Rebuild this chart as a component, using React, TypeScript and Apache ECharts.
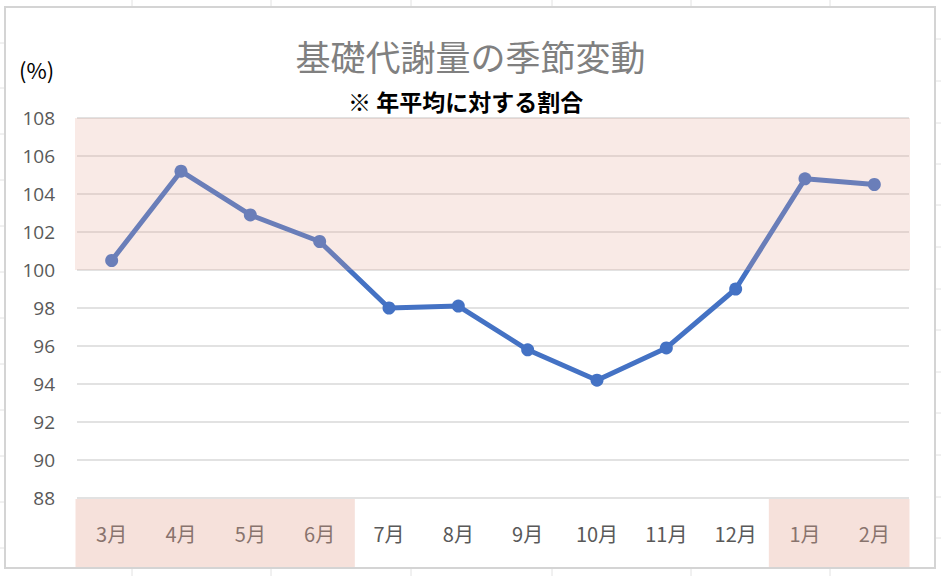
import React, { useEffect, useRef } from "react";
import * as echarts from "echarts";

const categories = ["3月", "4月", "5月", "6月", "7月", "8月", "9月", "10月", "11月", "12月", "1月", "2月"];
const values = [100.5, 105.2, 102.9, 101.5, 98.0, 98.1, 95.8, 94.2, 95.9, 99.0, 104.8, 104.5];
const yMin = 88;
const yMax = 108;
const yInterval = 2;
const highlightRange = [100, 108];
const highlightMonths: [string, string][] = [["3月", "6月"], ["1月", "2月"]];
const titleText = "基礎代謝量の季節変動";
const subtitleText = "※ 年平均に対する割合";
const unitText = "(%)";

const FONT = "'Noto Sans CJK JP', 'Noto Sans', sans-serif";

export default function App() {
  const ref = useRef<HTMLDivElement>(null);
  useEffect(() => {
    document.body.style.margin = "0";
    const chart = echarts.init(ref.current!, null, { renderer: "svg" });
    const option: any = {
      animation: false,
      backgroundColor: "#ffffff",
      title: [
        {
          text: titleText,
          left: "center",
          top: 33,
          textStyle: { fontFamily: FONT, fontSize: 35, fontWeight: "normal", color: "#808080" },
        },
        {
          text: subtitleText,
          left: 343,
          top: 84,
          textStyle: { fontFamily: FONT, fontSize: 23, fontWeight: "bold", color: "#000000" },
        },
      ],
      grid: { left: 77, right: 32, top: 118, bottom: 78 },
      xAxis: {
        type: "category",
        data: categories,
        boundaryGap: true,
        axisLine: { show: false },
        axisTick: { show: false },
        axisLabel: { fontFamily: FONT, fontSize: 20, color: "#595959", margin: 25 },
      },
      yAxis: {
        type: "value",
        min: yMin,
        max: yMax,
        interval: yInterval,
        axisLine: { show: false },
        axisTick: { show: false },
        axisLabel: { fontFamily: "'Open Sans', 'Noto Sans', sans-serif", fontSize: 19, color: "#595959", margin: 22 },
        splitLine: { lineStyle: { color: "#d9d9d9", width: 1.5 } },
      },
      series: [
        {
          type: "line",
          data: values,
          z: 2,
          symbol: "circle",
          symbolSize: 13,
          lineStyle: { color: "#4472C4", width: 5 },
          itemStyle: { color: "#4472C4" },
        },
      ],
    };
    chart.setOption(option);

    const c0 = chart.convertToPixel({ xAxisIndex: 0 }, categories[0]) as number;
    const c1 = chart.convertToPixel({ xAxisIndex: 0 }, categories[1]) as number;
    const bw = c1 - c0;
    const xLeft = c0 - bw / 2;
    const xRight = (chart.convertToPixel({ xAxisIndex: 0 }, categories[categories.length - 1]) as number) + bw / 2;
    const yBottom = chart.convertToPixel({ yAxisIndex: 0 }, yMin) as number;
    const yHiLo = chart.convertToPixel({ yAxisIndex: 0 }, highlightRange[0]) as number;
    const yHiHi = chart.convertToPixel({ yAxisIndex: 0 }, highlightRange[1]) as number;

    const bands: any[] = highlightMonths.map(([a, b], i) => {
      const xa = (chart.convertToPixel({ xAxisIndex: 0 }, a) as number) - bw / 2;
      const xb = (chart.convertToPixel({ xAxisIndex: 0 }, b) as number) + bw / 2;
      return {
        type: "rect",
        id: "band" + i,
        z: 20,
        silent: true,
        shape: { x: xa - 1.5, y: yBottom + 1, width: xb - xa + 2, height: 568 - yBottom - 1 },
        style: { fill: "rgba(230,166,149,0.34)" },
      };
    });
    bands.push({
      type: "rect",
      id: "hiband",
      z: 20,
      silent: true,
      shape: { x: xLeft - 2, y: yHiHi, width: xRight - xLeft + 3, height: yHiLo - yHiHi },
      style: { fill: "rgba(230,166,149,0.24)" },
    });

    const sheetLines: any[] = [];
    [132, 271, 411, 552, 691, 830].forEach((x) => {
      sheetLines.push({ type: "line", shape: { x1: x, y1: 0, x2: x, y2: 7 }, style: { stroke: "#e2e2e2", lineWidth: 1 } });
      sheetLines.push({ type: "line", shape: { x1: x, y1: 569, x2: x, y2: 576 }, style: { stroke: "#e2e2e2", lineWidth: 1 } });
    });
    [43, 88, 134, 180, 226, 272, 318, 364, 410, 456, 502, 548].forEach((y) => {
      sheetLines.push({ type: "line", shape: { x1: 0, y1: y, x2: 5, y2: y }, style: { stroke: "#e2e2e2", lineWidth: 1 } });
    });
    [39, 81, 123, 164, 205, 247, 289, 330, 372, 413, 455, 497, 538].forEach((y) => {
      sheetLines.push({ type: "line", shape: { x1: 936, y1: y, x2: 941, y2: y }, style: { stroke: "#e2e2e2", lineWidth: 1 } });
    });

    chart.setOption({
      graphic: [
        ...sheetLines,
        {
          type: "rect",
          z: 30,
          silent: true,
          shape: { x: 5, y: 7, width: 930, height: 561 },
          style: { fill: "none", stroke: "#d4d4d4", lineWidth: 2 },
        },
        {
          type: "text",
          z: 30,
          left: 19,
          top: 58,
          style: { text: unitText, fontFamily: FONT, fontSize: 22, fill: "#000000" },
        },
        ...bands,
      ],
    });
    return () => chart.dispose();
  }, []);
  return <div ref={ref} style={{ width: 941, height: 576 }} />;
}
